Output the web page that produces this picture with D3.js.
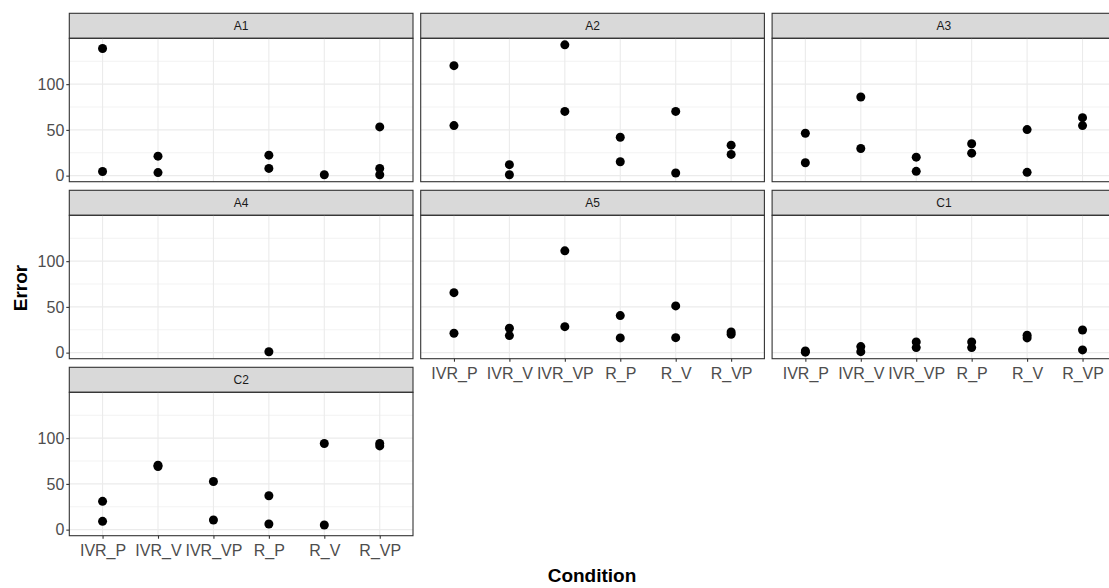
<!DOCTYPE html>
<html>
<head>
<meta charset="utf-8">
<script src="https://cdn.jsdelivr.net/npm/d3@7"></script>
<style>
  body { margin: 0; background: #fff; overflow: hidden; }
  svg { display: block; font-family: "Liberation Sans", Arial, sans-serif; }
</style>
</head>
<body>
<div id="graf"></div>
<script>
// Datos: categorías del eje x y facetas
condiciones = ['IVR_P', 'IVR_V', 'IVR_VP', 'R_P', 'R_V', 'R_VP']
facetas = ['A1', 'A2', 'A3', 'A4', 'A5', 'C1', 'C2']

// Error por condición (un arreglo por condición, en el orden de "condiciones")
errA1 = [[139, 4.5], [21.3, 3.3], [], [22.4, 7.9], [1], [53.3, 7.9, 1]]
errA2 = [[120.2, 54.7], [12, 1], [143, 70.2], [42, 15.2], [70.2, 2.9], [33.3, 23.2]]
errA3 = [[46.3, 14.1], [85.9, 29.7], [20.2, 4.7], [34.8, 24.6], [50.3, 3.6], [63.4, 54.7]]
errA4 = [[], [], [], [1], [], []]
errA5 = [[65.6, 21.2], [26.7, 18.6], [111.3, 28.4], [40.5, 16.1], [51.1, 16.4], [22.6, 20.1]]
errC1 = [[1.8, 0.5], [6.6, 1.1], [11.7, 5.5], [11.7, 5.5], [19, 16.1], [24.8, 3]]
errC2 = [[30.9, 9.1], [70.5, 69], [52.6, 10.5], [37, 6.2], [94.2, 5.1], [94.2, 91.5]]

yTicks = [0, 50, 100]
yMinor = [25, 75, 125]

errores = [errA1, errA2, errA3, errA4, errA5, errC1, errC2]

// Tabla larga para dibujar
datos = []
errores.forEach((serie, i) => {
    serie.forEach((vals, j) => {
        vals.forEach(v => datos.push({ faceta: facetas[i], cond: condiciones[j], error: v }))
    })
})

// Configuración del canvas
ancho_total = 1109
alto_total = 588

svg = d3.select('#graf').append('svg')
        .attr('width', ancho_total)
        .attr('height', alto_total)

izq = 69.3
arriba = 13.3
pasoX = 351.4
pasoY = 177
ancho = 343.7
alto_strip = 25
alto = 143.4

// -- Escaladores (escala y común, expandida 5% como ggplot) --
yMin = d3.min(datos, d => d.error)
yMax = d3.max(datos, d => d.error)
rango = yMax - yMin
y = d3.scaleLinear()
      .domain([yMin - 0.05 * rango, yMax + 0.05 * rango])
      .range([alto, 0])
x = d3.scalePoint()
      .domain(condiciones)
      .range([0, ancho])
      .padding(0.6)

facetas.forEach((f, i) => {
    fila = Math.floor(i / 3)
    col = i % 3
    gx = izq + col * pasoX
    gy = arriba + fila * pasoY

    // Strip
    strip = svg.append('g').attr('transform', `translate(${gx}, ${gy})`)
    strip.append('rect')
         .attr('x', 0).attr('y', 0)
         .attr('width', ancho).attr('height', alto_strip)
         .attr('fill', '#D9D9D9')
         .attr('stroke', '#333333')
         .attr('stroke-width', 1.1)
    strip.append('text')
         .attr('x', ancho / 2).attr('y', alto_strip / 2)
         .attr('dy', '0.35em')
         .attr('text-anchor', 'middle')
         .attr('font-size', 12)
         .attr('fill', '#1A1A1A')
         .text(f)

    g = svg.append('g').attr('transform', `translate(${gx}, ${gy + alto_strip})`)

    // Rejilla
    g.selectAll('.minor').data(yMinor).enter()
     .append('line')
     .attr('x1', 0).attr('x2', ancho)
     .attr('y1', d => y(d)).attr('y2', d => y(d))
     .attr('stroke', '#EBEBEB').attr('stroke-width', 0.6)
    g.selectAll('.major').data(yTicks).enter()
     .append('line')
     .attr('x1', 0).attr('x2', ancho)
     .attr('y1', d => y(d)).attr('y2', d => y(d))
     .attr('stroke', '#EBEBEB').attr('stroke-width', 1.1)
    g.selectAll('.vgrid').data(condiciones).enter()
     .append('line')
     .attr('x1', d => x(d)).attr('x2', d => x(d))
     .attr('y1', 0).attr('y2', alto)
     .attr('stroke', '#EBEBEB').attr('stroke-width', 1.1)

    // Puntos
    g.selectAll('circle')
     .data(datos.filter(d => d.faceta == f))
     .enter()
     .append('circle')
     .attr('cx', d => x(d.cond))
     .attr('cy', d => y(d.error))
     .attr('r', 4.5)
     .attr('fill', '#000')

    // Borde del panel
    g.append('rect')
     .attr('width', ancho).attr('height', alto)
     .attr('fill', 'none')
     .attr('stroke', '#333333')
     .attr('stroke-width', 1.1)

    // Eje y en la primera columna
    if (col == 0) {
        yAx = g.append('g').call(d3.axisLeft(y).tickValues(yTicks).tickSize(3).tickPadding(2))
        yAx.select('.domain').remove()
        yAx.selectAll('line').attr('stroke', '#333333').attr('stroke-width', 1.1)
        yAx.selectAll('text').attr('fill', '#4D4D4D').attr('font-size', 16)
           .attr('font-family', '"Liberation Sans", Arial, sans-serif')
    }
    // Eje x si no hay panel debajo
    if (i + 3 >= facetas.length) {
        xAx = g.append('g')
               .attr('transform', `translate(0, ${alto})`)
               .call(d3.axisBottom(x).tickSize(3).tickPadding(6))
        xAx.select('.domain').remove()
        xAx.selectAll('line').attr('stroke', '#333333').attr('stroke-width', 1.1)
        xAx.selectAll('text').attr('fill', '#4D4D4D').attr('font-size', 16)
           .attr('font-family', '"Liberation Sans", Arial, sans-serif')
    }
})

// Títulos de ejes
svg.append('text')
   .attr('x', 592).attr('y', 582)
   .attr('text-anchor', 'middle')
   .attr('font-size', 19).attr('font-weight', 'bold')
   .attr('fill', '#000')
   .text('Condition')
svg.append('text')
   .attr('transform', 'translate(27, 288) rotate(-90)')
   .attr('text-anchor', 'middle')
   .attr('font-size', 19).attr('font-weight', 'bold')
   .attr('fill', '#000')
   .text('Error')
</script>
</body>
</html>
